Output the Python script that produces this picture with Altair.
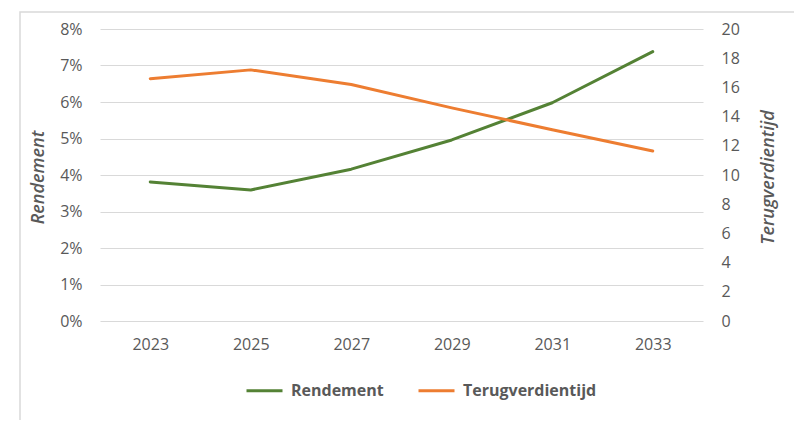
import altair as alt
import pandas as pd

years = ["2023", "2025", "2027", "2029", "2031", "2033"]
rendement = [0.0381, 0.0359, 0.0416, 0.0496, 0.0598, 0.0738]
terugverdientijd = [16.6, 17.2, 16.2, 14.6, 13.1, 11.65]
series_names = ["Rendement", "Terugverdientijd"]
series_colors = ["#548235", "#ed7d31"]
left_ticks = [0, 0.01, 0.02, 0.03, 0.04, 0.05, 0.06, 0.07, 0.08]
right_ticks = [0, 2, 4, 6, 8, 10, 12, 14, 16, 18, 20]

df = pd.DataFrame({"jaar": years, "rendement": rendement, "terug": terugverdientijd})

FONT = "Open Sans"
GREY = "#595959"

x_enc = alt.X("jaar:O", sort=years,
              scale=alt.Scale(type="point", padding=0.5),
              axis=alt.Axis(title=None, labelAngle=0, ticks=False, domain=False,
                            grid=False, labelPadding=15, labelFontSize=16,
                            labelColor=GREY, labelFont=FONT))

color_enc = alt.Color("serie:N", scale=alt.Scale(domain=series_names, range=series_colors),
                      legend=alt.Legend(title=None))

border = alt.Chart(pd.DataFrame({"a": [0]})).mark_rect(
    fill="white", fillOpacity=0, stroke="#d9d9d9", strokeWidth=1.5
).encode(
    x=alt.value(-80), x2=alt.value(720), y=alt.value(-17), y2=alt.value(430)
)

line1 = alt.Chart(df).transform_calculate(serie="'Rendement'").mark_line(
    strokeWidth=3, strokeCap="round", strokeJoin="round").encode(
    x=x_enc,
    y=alt.Y("rendement:Q", scale=alt.Scale(domain=[0, 0.08], nice=False),
            axis=alt.Axis(title="Rendement", values=left_ticks, format=".0%",
                          orient="left", ticks=False, domain=False,
                          grid=True, gridColor="#d9d9d9", gridWidth=1,
                          labelPadding=18, labelFontSize=16, labelColor=GREY,
                          labelFont=FONT, titleFont=FONT, titleFontSize=18,
                          titleFontStyle="italic", titleFontWeight=600,
                          titleColor=GREY, titleX=-62, titleY=148,
                          titleAngle=270, titleAlign="center",
                          titleBaseline="middle")),
    color=color_enc,
)

line2 = alt.Chart(df).transform_calculate(serie="'Terugverdientijd'").mark_line(
    strokeWidth=3, strokeCap="round", strokeJoin="round").encode(
    x=x_enc,
    y=alt.Y("terug:Q", scale=alt.Scale(domain=[0, 20], nice=False),
            axis=alt.Axis(title="Terugverdientijd", values=right_ticks,
                          orient="right", ticks=False, domain=False, grid=False,
                          labelPadding=18, labelFontSize=16, labelColor=GREY,
                          labelFont=FONT, titleFont=FONT, titleFontSize=18,
                          titleFontStyle="italic", titleFontWeight=600,
                          titleColor=GREY, titleX=65, titleY=148,
                          titleAngle=270, titleAlign="center",
                          titleBaseline="middle")),
    color=color_enc,
)

chart = alt.layer(border, line1, line2).resolve_scale(
    y="independent"
).properties(
    width=603, height=292,
    autosize=alt.AutoSizeParams(type="none"),
    padding={"left": 92, "top": 21, "right": 91, "bottom": 99},
).configure_view(
    stroke=None
).configure_legend(
    orient="none", legendX=145, legendY=342, direction="horizontal",
    symbolType="stroke", symbolSize=1296, symbolStrokeWidth=3,
    labelFont=FONT, labelFontSize=16, labelFontWeight="bold", labelColor=GREY,
    labelOffset=7, columnPadding=28, padding=0,
)

chart.save("out.html", embed_options={"renderer": "svg", "actions": False})
